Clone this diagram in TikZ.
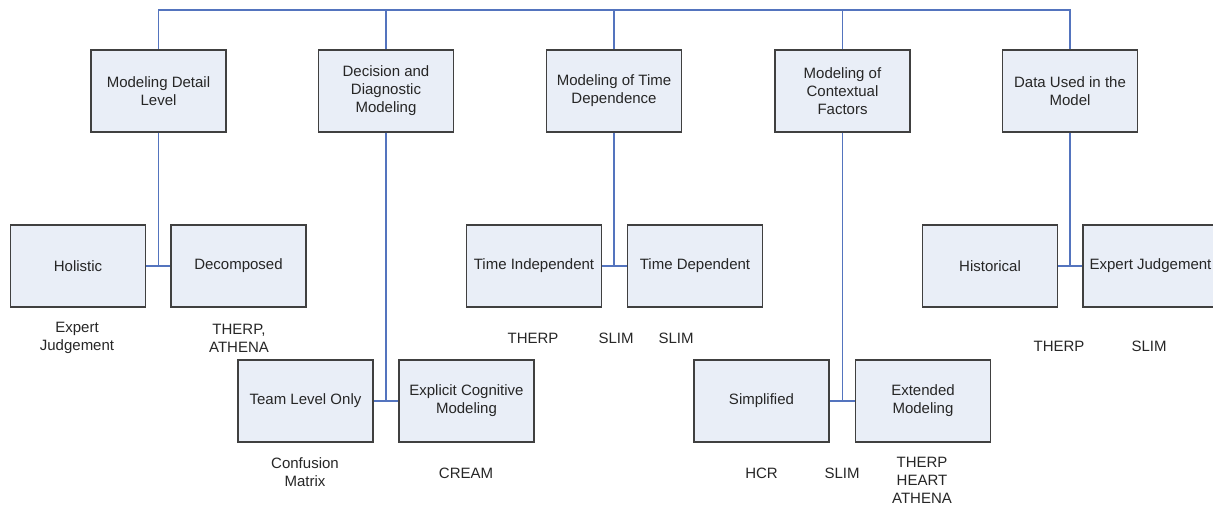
\documentclass[tikz,border=0pt]{standalone}
\usepackage{fontspec}
\setmainfont{Liberation Sans}
\definecolor{boxfill}{RGB}{233,238,247}
\definecolor{boxline}{RGB}{64,64,64}
\definecolor{linkblue}{RGB}{84,116,190}
\tikzset{
  catbox/.style={draw=boxline, fill=boxfill, line width=1.5pt, minimum width=135pt,
    minimum height=82pt, align=center, inner sep=2pt, text=black!85},
  lbl/.style={align=center, inner sep=0pt, text=black!85},
  link/.style={draw=linkblue, line width=1.5pt}
}
\begin{document}
\begin{tikzpicture}[x=1pt,y=-1pt,font=\fontsize{15}{18}\selectfont]
  \useasboundingbox (0,0) rectangle (1213,510);
  \coordinate (bar) at (0,10);
  \node[catbox] (detail) at (158.5,91) {Modeling Detail\\Level};
  \node[catbox] (decision) at (386,91) {Decision and\\Diagnostic\\Modeling};
  \node[catbox] (time) at (614,91) {Modeling of Time\\Dependence};
  \node[catbox] (context) at (842.5,91) {Modeling of\\Contextual\\Factors};
  \node[catbox] (data) at (1070,91) {Data Used in the\\Model};
  \draw[link] (detail.north) |- (bar -| data.north) -- (data.north);
  \foreach \n in {decision,time,context}
    \draw[link] (\n.north) -- (\n.north |- bar);

  \node[catbox] (holistic) at (78,266) {Holistic};
  \node[catbox] (decomposed) at (238.5,266) {Decomposed};
  \node[catbox] (timeind) at (534,266) {Time Independent};
  \node[catbox] (timedep) at (695,266) {Time Dependent};
  \node[catbox] (historical) at (990,266) {Historical};
  \node[catbox] (expjudge) at (1150.5,266) {Expert Judgement};

  \node[catbox] (team) at (305.5,401) {Team Level Only};
  \node[catbox] (explicit) at (466.5,401) {Explicit Cognitive\\Modeling};
  \node[catbox] (simplified) at (761.5,401) {Simplified};
  \node[catbox] (extended) at (923,401) {Extended\\Modeling};

  \draw[link] (holistic) -- (decomposed);
  \draw[link] (detail) -- (detail |- holistic);
  \draw[link] (team) -- (explicit);
  \draw[link] (decision) -- (decision |- team);
  \draw[link] (timeind) -- (timedep);
  \draw[link] (time) -- (time |- timeind);
  \draw[link] (simplified) -- (extended);
  \draw[link] (context) -- (context |- simplified);
  \draw[link] (historical) -- (expjudge);
  \draw[link] (data) -- (data |- historical);

  \node[lbl] (hol-m) at (77,338) {Expert\\Judgement};
  \node[lbl] (dec-m) at (239,338) {THERP,\\ATHENA};
  \node[lbl] (team-m) at (305,472.5) {Confusion\\Matrix};
  \node[lbl] (expl-m) at (466,473) {CREAM};
  \node[lbl] (ind-m1) at (533,338) {THERP};
  \node[lbl] (ind-m2) at (616,338) {SLIM};
  \node[lbl] (dep-m) at (676,338) {SLIM};
  \node[lbl] (simp-m1) at (761.5,473) {HCR};
  \node[lbl] (simp-m2) at (842,473) {SLIM};
  \node[lbl] (ext-m) at (922,480) {THERP\\HEART\\ATHENA};
  \node[lbl] (hist-m) at (1059,346) {THERP};
  \node[lbl] (judge-m) at (1149,346) {SLIM};
\end{tikzpicture}
\end{document}
